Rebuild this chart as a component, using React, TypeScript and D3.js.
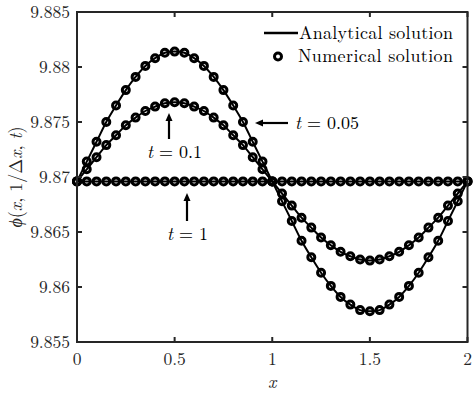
import React from "react";
import * as d3 from "d3";

const xs = [0, 0.05, 0.1, 0.15, 0.2, 0.25, 0.3, 0.35, 0.4, 0.45, 0.5, 0.55, 0.6, 0.65, 0.7, 0.75, 0.8, 0.85, 0.9, 0.95, 1.0,
  1.05, 1.1, 1.15, 1.2, 1.25, 1.3, 1.35, 1.4, 1.45, 1.5, 1.55, 1.6, 1.65, 1.7, 1.75, 1.8, 1.85, 1.9, 1.95, 2.0];

const phiT005 = [9.8696, 9.8714, 9.8732, 9.8750, 9.8765, 9.8779, 9.8791, 9.8801, 9.8808, 9.8813, 9.8814,
  9.8813, 9.8808, 9.8801, 9.8791, 9.8779, 9.8765, 9.8750, 9.8732, 9.8714, 9.8696,
  9.8678, 9.8660, 9.8642, 9.8627, 9.8613, 9.8601, 9.8591, 9.8584, 9.8579, 9.8578,
  9.8579, 9.8584, 9.8591, 9.8601, 9.8613, 9.8627, 9.8642, 9.8660, 9.8678, 9.8696];

const phiT01 = [9.8696, 9.8707, 9.8718, 9.8729, 9.8738, 9.8747, 9.8754, 9.8760, 9.8764, 9.8767, 9.8768,
  9.8767, 9.8764, 9.8760, 9.8754, 9.8747, 9.8738, 9.8729, 9.8718, 9.8707, 9.8696,
  9.8685, 9.8674, 9.8663, 9.8654, 9.8645, 9.8638, 9.8632, 9.8628, 9.8625, 9.8624,
  9.8625, 9.8628, 9.8632, 9.8638, 9.8645, 9.8654, 9.8663, 9.8674, 9.8685, 9.8696];

const phiT1 = [9.8696, 9.8696, 9.8696, 9.8696, 9.8696, 9.8696, 9.8696, 9.8696, 9.8696, 9.8696, 9.8696,
  9.8696, 9.8696, 9.8696, 9.8696, 9.8696, 9.8696, 9.8696, 9.8696, 9.8696, 9.8696,
  9.8696, 9.8696, 9.8696, 9.8696, 9.8696, 9.8696, 9.8696, 9.8696, 9.8696, 9.8696,
  9.8696, 9.8696, 9.8696, 9.8696, 9.8696, 9.8696, 9.8696, 9.8696, 9.8696, 9.8696];

const xTicks = [0, 0.5, 1, 1.5, 2];
const xTickLabels = ["0", "0.5", "1", "1.5", "2"];
const yTicks = [9.855, 9.86, 9.865, 9.87, 9.875, 9.88, 9.885];
const yTickLabels = ["9.855", "9.86", "9.865", "9.87", "9.875", "9.88", "9.885"];

const series = [phiT005, phiT01, phiT1];

const W = 473, H = 395;
const L = 77, R = 467.5, T = 12, B = 342;
const FONT = "'Latin Modern Roman', 'Liberation Serif', 'Times New Roman', serif";
const AX = "#262626";

export default function App() {
  const x = d3.scaleLinear().domain([0, 2]).range([L, R]);
  const y = d3.scaleLinear().domain([9.855, 9.885]).range([B, T]);
  const line = d3.line<number>().x((_, i) => x(xs[i])).y((d) => y(d)).curve(d3.curveCatmullRom);

  const arrowHead = (tx: number, ty: number, dir: "left" | "up") => {
    if (dir === "left") return `M${tx},${ty} L${tx + 8},${ty - 3.5} L${tx + 8},${ty + 3.5} Z`;
    return `M${tx},${ty} L${tx - 3.5},${ty + 8} L${tx + 3.5},${ty + 8} Z`;
  };

  return (
    <svg width={W} height={H} style={{ position: "absolute", left: 0, top: 0, background: "#fff" }} fontFamily={FONT}>
      <defs>
        <clipPath id="plotclip">
          <rect x={L - 6} y={T - 6} width={R - L + 12} height={B - T + 12} />
        </clipPath>
      </defs>
      {/* data */}
      <g clipPath="url(#plotclip)">
        {series.map((s, si) => (
          <path key={"l" + si} d={line(s) || ""} fill="none" stroke="#000" strokeWidth={2} />
        ))}
        {series.map((s, si) =>
          s.map((v, i) => (
            <circle key={"c" + si + "-" + i} cx={x(xs[i])} cy={y(v)} r={3.5} fill="none" stroke="#000" strokeWidth={3} />
          ))
        )}
      </g>
      {/* axes box */}
      <rect x={L} y={T} width={R - L} height={B - T} fill="none" stroke={AX} strokeWidth={2} />
      {xTicks.map((t, i) => (
        <g key={"xt" + i}>
          <line x1={x(t)} x2={x(t)} y1={B} y2={B - 5} stroke={AX} strokeWidth={2} />
          <line x1={x(t)} x2={x(t)} y1={T} y2={T + 5} stroke={AX} strokeWidth={2} />
          <text x={x(t)} y={365} textAnchor="middle" fontSize={17.5} fill={AX}>{xTickLabels[i]}</text>
        </g>
      ))}
      {yTicks.map((t, i) => (
        <g key={"yt" + i}>
          <line x1={L} x2={L + 5} y1={y(t)} y2={y(t)} stroke={AX} strokeWidth={2} />
          <line x1={R} x2={R - 5} y1={y(t)} y2={y(t)} stroke={AX} strokeWidth={2} />
          <text x={70} y={y(t) + 6} textAnchor="end" fontSize={17.5} fill={AX}>{yTickLabels[i]}</text>
        </g>
      ))}
      {/* axis labels */}
      <text x={(L + R) / 2} y={388} textAnchor="middle" fontSize={18} fontStyle="italic" fill={AX}>x</text>
      <text transform={`translate(22, ${(T + B) / 2}) rotate(-90)`} textAnchor="middle" fontSize={18} fill={AX}>
        <tspan fontStyle="italic">ϕ</tspan>(<tspan fontStyle="italic">x</tspan>, 1/Δ<tspan fontStyle="italic">x</tspan>, <tspan fontStyle="italic">t</tspan>)
      </text>
      {/* legend */}
      <line x1={264} x2={298} y1={33} y2={33} stroke="#000" strokeWidth={2.5} />
      <text x={299} y={39} fontSize={18} fill="#000" textLength={154} lengthAdjust="spacing">Analytical solution</text>
      <circle cx={278} cy={56.5} r={3.5} fill="none" stroke="#000" strokeWidth={3} />
      <text x={298} y={62} fontSize={18} fill="#000" textLength={155} lengthAdjust="spacing">Numerical solution</text>
      {/* annotations */}
      <line x1={288} x2={262} y1={123} y2={123} stroke="#000" strokeWidth={2.2} />
      <path d={arrowHead(255, 123, "left")} fill="#000" />
      <text x={295} y={129} fontSize={18} fill="#000">
        <tspan fontStyle="italic">t</tspan> = 0.05
      </text>
      <line x1={169} x2={169} y1={139} y2={120} stroke="#000" strokeWidth={2.2} />
      <path d={arrowHead(169, 113, "up")} fill="#000" />
      <text x={147} y={158} fontSize={18} fill="#000">
        <tspan fontStyle="italic">t</tspan> = 0.1
      </text>
      <line x1={187} x2={187} y1={221} y2={200} stroke="#000" strokeWidth={2.2} />
      <path d={arrowHead(187, 193, "up")} fill="#000" />
      <text x={167} y={240} fontSize={18} fill="#000">
        <tspan fontStyle="italic">t</tspan> = 1
      </text>
    </svg>
  );
}
